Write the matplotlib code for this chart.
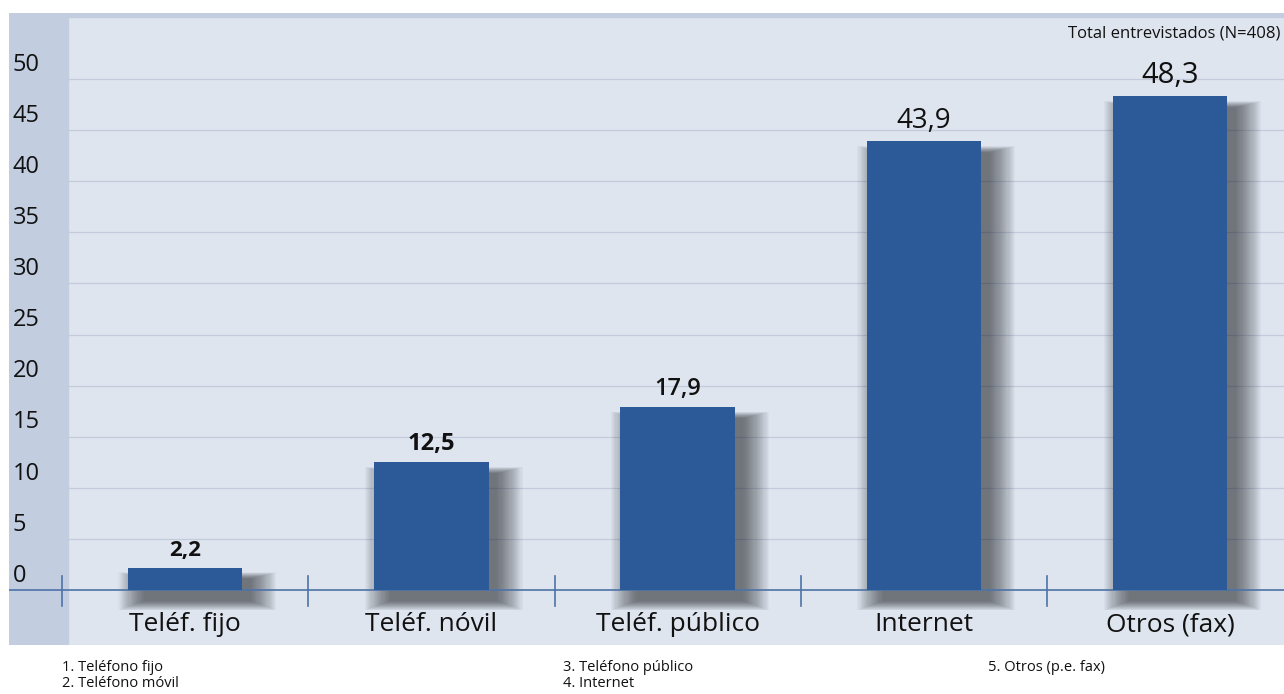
import matplotlib.pyplot as plt
from matplotlib.patches import Rectangle

categories = ["Teléf. fijo", "Teléf. nóvil", "Teléf. público", "Internet", "Otros (fax)"]
values = [2.2, 12.5, 17.9, 43.9, 48.3]
value_labels = ["2,2", "12,5", "17,9", "43,9", "48,3"]
yticks = [0, 5, 10, 15, 20, 25, 30, 35, 40, 45, 50]
footnotes = [
    "1. Teléfono fijo\n2. Teléfono móvil",
    "3. Teléfono público\n4. Internet",
    "5. Otros (p.e. fax)",
]
note_top = "Total entrevistados (N=408)"

# label sizes differ a bit in the original
label_sizes = [16, 17, 17, 20, 21]
label_weights = ["bold", "bold", "semibold", "medium", "medium"]

plt.rcParams['font.family'] = ['Open Sans', 'DejaVu Sans']

W, H = 1284, 694
fig = plt.figure(figsize=(W / 100, H / 100), dpi=100)
ax = fig.add_axes([9 / W, (H - 645) / H, 1275 / W, 632 / H])

xmin, xmax = -0.715, 4.462
ymin, ymax = -5.38, 56.46
ax.set_xlim(xmin, xmax)
ax.set_ylim(ymin, ymax)
ax.set_facecolor("#dfe5ef")
for s in ax.spines.values():
    s.set_visible(False)
ax.set_xticks([])
ax.set_yticks([])

# left strip and top strip
strip = "#c3cde0"
ax.add_patch(Rectangle((0, 0), 59 / 1275, 1, transform=ax.transAxes, color=strip, zorder=0.5))
ax.add_patch(Rectangle((0, 1 - 4 / 632), 1, 4 / 632, transform=ax.transAxes, color=strip, zorder=0.5))

# gridlines
x_grid0 = xmin + (59 / 1275) * (xmax - xmin)
for t in yticks[1:]:
    ax.plot([x_grid0, xmax], [t, t], color="#c2ccdd", lw=0.9, zorder=1)
for t in yticks:
    ax.text(-0.7, t + 1.4, str(t), fontsize=17, color="#111111", va="center", ha="left")

xs = list(range(len(categories)))
bw = 0.465

# soft shadow (stacked translucent rectangles, shrinking towards the core)
for i, v in zip(xs, values):
    for k in range(24):
        grow = 0.0045 * (24 - k) - 0.02
        ax.add_patch(Rectangle((i - bw / 2 + 0.05 - grow, -1.2 - grow * 9),
                               bw + 2 * grow, v + 0.2 + grow * 15,
                               color="#1e2228", alpha=0.032, lw=0, zorder=1.5))

ax.bar(xs, values, width=bw, color="#2c5a98", zorder=3)

# baseline and separators
ax.axhline(0, color="#4d72a8", lw=1.2, zorder=2)
for b in [i - 0.5 for i in xs]:
    ax.plot([b, b], [1.4, -1.6], color="#4d72a8", lw=1.2, zorder=2)

for i, v, lab, fs, fw in zip(xs, values, value_labels, label_sizes, label_weights):
    ax.text(i, v + 0.6, lab, ha="center", va="bottom", fontsize=fs, fontweight=fw, color="#111111", zorder=4)

for i, c in zip(xs, categories):
    ax.text(i, -3.4, c, ha="center", va="center", fontsize=19, color="#111111", zorder=4)

fig.text(1068 / W, 1 - 33 / H, note_top, fontsize=12, color="#111111", va="center", ha="left")

for x, txt in zip([62, 563, 988], footnotes):
    fig.text(x / W, 1 - 660 / H, txt, fontsize=10.5, color="#111111", va="top", ha="left", linespacing=1.12)

fig.savefig("out.png", dpi=100, facecolor="white")
